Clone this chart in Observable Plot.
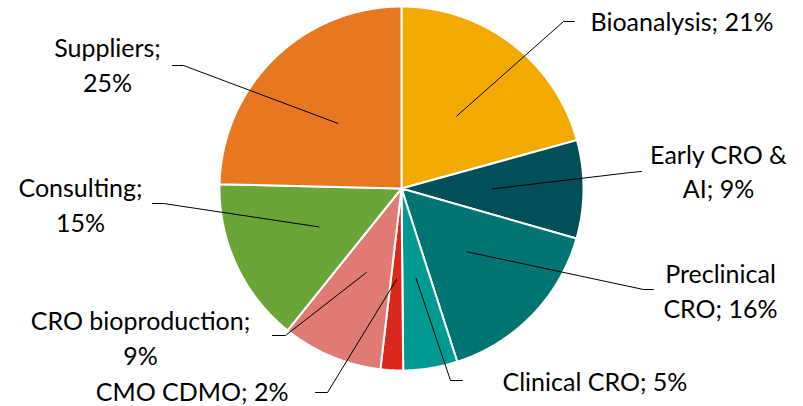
<!DOCTYPE html>
<html><head><meta charset="utf-8">
<script src="https://cdn.jsdelivr.net/npm/d3@7"></script>
<script src="https://cdn.jsdelivr.net/npm/@observablehq/plot@0.6"></script>
<style>body{margin:0;background:#fff} svg{display:block}</style>
</head><body><div id="chart"></div>
<script>
// ---- data ----
const categories = ["Bioanalysis", "Early CRO & AI", "Preclinical CRO", "Clinical CRO", "CMO CDMO", "CRO bioproduction", "Consulting", "Suppliers"];
const shares = [20.7, 8.7, 15.6, 4.8, 2.0, 8.9, 14.6, 24.6];
const percentLabels = ["21%", "9%", "16%", "5%", "2%", "9%", "15%", "25%"];
const labelTexts = ["Bioanalysis; 21%", "Early CRO &\nAI; 9%", "Preclinical\nCRO; 16%", "Clinical CRO; 5%", "CMO CDMO; 2%", "CRO bioproduction;\n9%", "Consulting;\n15%", "Suppliers;\n25%"];

// ---- styles ----
const colors = ["#F2AA00", "#004F59", "#007373", "#009A93", "#DA291C", "#E07A74", "#6BA539", "#E87722"];

// ---- label layout (pixel positions, converted to pie units) ----
const W = 803, H = 406, CX = 401, CY = 188, R = 182;
const TEXT_SHIFT = -2;
const layoutPx = [
  {elbow: [563, 21], end: [574, 21], text: [590, 21.7], anchor: "start"},
  {elbow: [630, 172], end: [641, 171], text: [718, 171.3], anchor: "middle"},
  {elbow: [643, 289], end: [653, 289], text: [720, 291], anchor: "middle"},
  {elbow: [450, 380], end: [462, 380], text: [502, 381], anchor: "start"},
  {elbow: [327, 392], end: [315, 392], text: [288, 391], anchor: "end"},
  {elbow: [285, 335], end: [272, 335], text: [140, 338], anchor: "middle"},
  {elbow: [163, 203], end: [152, 203], text: [80, 205], anchor: "middle"},
  {elbow: [183, 65], end: [172, 65], text: [107, 65], anchor: "middle"}
];
const ux = px => (px - CX) / R;
const uy = py => (CY - py) / R;

const data = categories.map((c, i) => ({category: c, share: shares[i], label: labelTexts[i], pct: percentLabels[i]}));
const arcs = d3.pie().sort(null).value(d => d.share)(data);

const slicePts = arcs.flatMap(p => {
  const pts = [{category: p.data.category, x: 0, y: 0}];
  const n = Math.max(2, Math.ceil((p.endAngle - p.startAngle) / 0.005));
  for (let i = 0; i <= n; i++) {
    const a = p.startAngle + (p.endAngle - p.startAngle) * i / n;
    pts.push({category: p.data.category, x: Math.sin(a), y: Math.cos(a)});
  }
  return pts;
});

const leaderPts = arcs.flatMap((p, i) => {
  const mid = (p.startAngle + p.endAngle) / 2;
  const L = layoutPx[i];
  return [
    {category: p.data.category, x: 0.5 * Math.sin(mid), y: 0.5 * Math.cos(mid)},
    {category: p.data.category, x: ux(L.elbow[0]), y: uy(L.elbow[1])},
    {category: p.data.category, x: ux(L.end[0]), y: uy(L.end[1])}
  ];
});

const labels = data.map((d, i) => ({label: d.label, x: ux(layoutPx[i].text[0]), y: uy(layoutPx[i].text[1] + TEXT_SHIFT), anchor: layoutPx[i].anchor}));

const chart = Plot.plot({
  width: W, height: H,
  marginLeft: CX - R, marginRight: W - (CX + R),
  marginTop: CY - R, marginBottom: H - (CY + R),
  x: {domain: [-1, 1], axis: null},
  y: {domain: [-1, 1], axis: null},
  color: {domain: categories, range: colors},
  style: {fontFamily: "Lato, 'Open Sans', sans-serif", background: "#fff", overflow: "visible"},
  marks: [
    Plot.line(slicePts, {x: "x", y: "y", z: "category", fill: "category", stroke: "white", strokeWidth: 2, curve: "linear-closed", strokeLinejoin: "round"}),
    Plot.line(leaderPts, {x: "x", y: "y", z: "category", stroke: "black", strokeWidth: 1}),
    ...["start", "middle", "end"].map(a => Plot.text(labels.filter(d => d.anchor === a), {x: "x", y: "y", text: "label", textAnchor: a, lineAnchor: "middle", lineHeight: 1.38, fontSize: 25, fill: "black"}))
  ]
});
document.getElementById("chart").appendChild(chart);
</script>
</body></html>
